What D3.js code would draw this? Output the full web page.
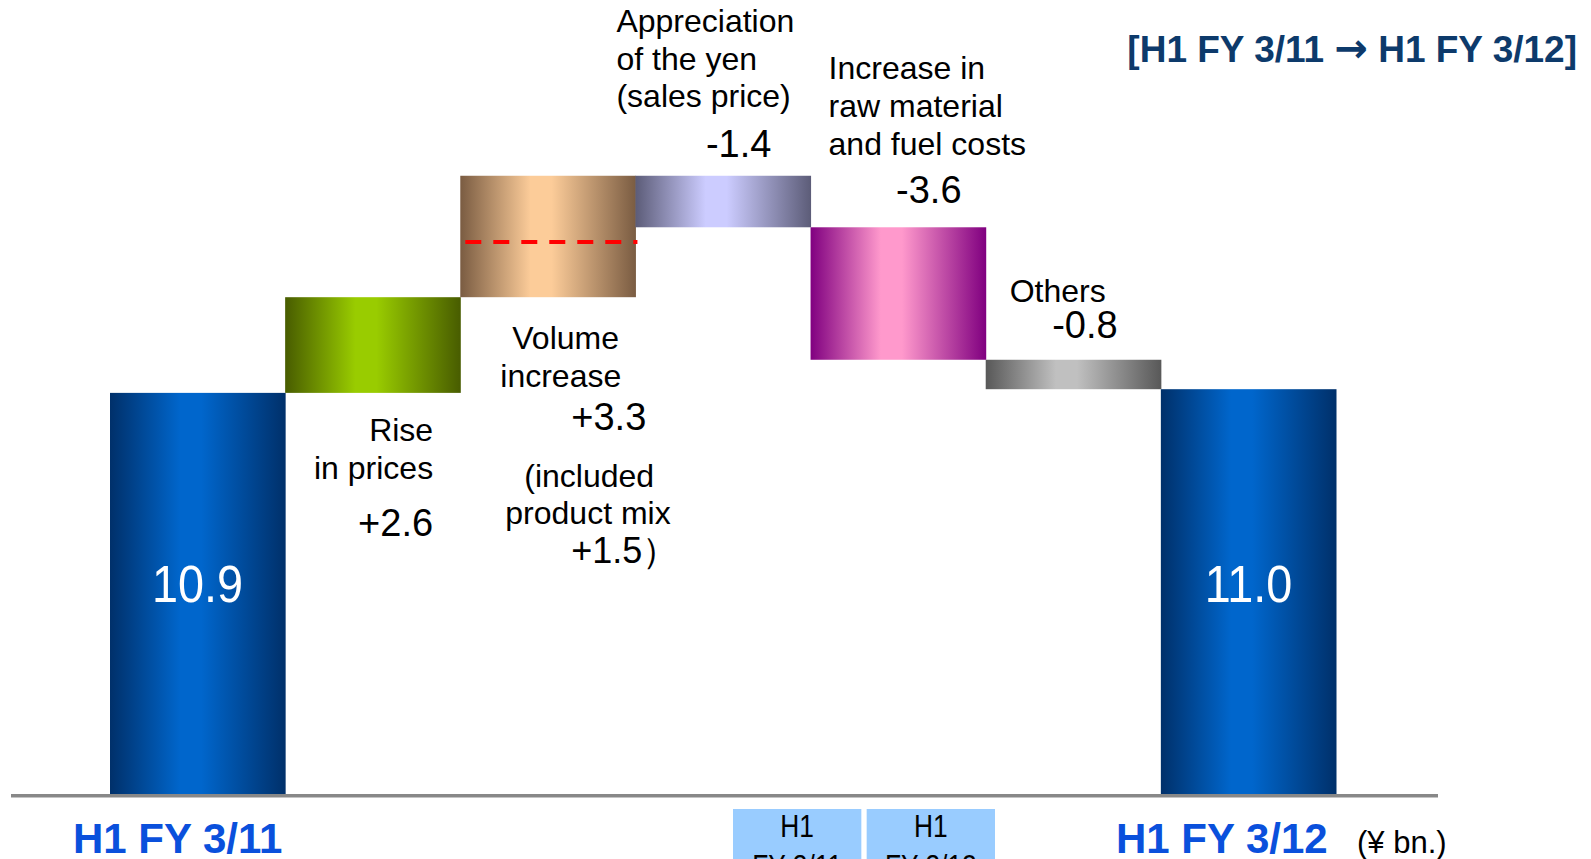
<!DOCTYPE html>
<html>
<head>
<meta charset="utf-8">
<script src="https://cdn.jsdelivr.net/npm/d3@7"></script>
<style>
  html, body { margin: 0; padding: 0; background: #fff; }
  svg { display: block; font-family: "Liberation Sans", Arial, sans-serif; }
</style>
</head>
<body>
<svg id="chart"></svg>
<script>
/* ---------- size ---------- */
var WIDTH = 1591,
    HEIGHT = 859;

/* ---------- data ---------- */
var categories = ["H1 FY 3/11", "Rise in prices", "Volume increase", "Appreciation of the yen",
                  "Increase in raw material and fuel costs", "Others", "H1 FY 3/12"];
var values = [10.9, 2.6, 3.3, -1.4, -3.6, -0.8, 11.0];
var isTotal = [true, false, false, false, false, false, true];
var valueLabels = ["10.9", "+2.6", "+3.3", "-1.4", "-3.6", "-0.8", "11.0"];
var productMix = 1.5;   // part of volume increase
var bottomBoxes = ["H1 FY 3/11", "H1 FY 3/12"];

/* ---------- colours: [edge, centre] ---------- */
var barColors = [
    ["#00306a", "#0066cc"],
    ["#485c00", "#99cc00"],
    ["#7a5c42", "#fccc99"],
    ["#5c5c78", "#ccccff"],
    ["#800080", "#ff99cc"],
    ["#585858", "#c0c0c0"],
    ["#00306a", "#0066cc"]
];
var titleColor = "#0d3a6b",
    axisLabelColor = "#0a50dc";

/* ---------- waterfall steps ---------- */
var steps = [], running = 0;
values.forEach(function(v, i) {
    var start, end;
    if (isTotal[i]) { start = 0; end = v; running = v; }
    else { start = running; end = running + v; running = end; }
    steps.push({name: categories[i], i: i, lo: Math.min(start, end), hi: Math.max(start, end)});
});

/* ---------- scales ---------- */
var x = d3.scaleBand().domain(categories).range([110, 1336]).padding(0);
var y = d3.scaleLinear().domain([0, 20]).range([794, 794 - 20 * 36.8]);

var svg = d3.select("#chart").attr("width", WIDTH).attr("height", HEIGHT);
var defs = svg.append("defs");

barColors.forEach(function(c, i) {
    var g = defs.append("linearGradient").attr("id", "grad" + i)
        .attr("x1", "0%").attr("x2", "100%").attr("y1", "0%").attr("y2", "0%");
    g.append("stop").attr("offset", "0%").attr("stop-color", c[0]);
    g.append("stop").attr("offset", "40%").attr("stop-color", c[1]);
    g.append("stop").attr("offset", "52%").attr("stop-color", c[1]);
    g.append("stop").attr("offset", "100%").attr("stop-color", c[0]);
});

/* ---------- bars ---------- */
svg.selectAll("rect.bar")
    .data(steps)
  .enter().append("rect")
    .attr("class", "bar")
    .attr("x", function(d) { return x(d.name); })
    .attr("width", x.bandwidth() + 0.5)
    .attr("y", function(d) { return y(d.hi); })
    .attr("height", function(d) { return y(d.lo) - y(d.hi); })
    .attr("fill", function(d) { return "url(#grad" + d.i + ")"; });

// product mix dashed line inside volume bar
var vol = steps[2];
svg.append("line")
    .attr("x1", x(vol.name) + 5)
    .attr("x2", x(vol.name) + x.bandwidth() + 2)
    .attr("y1", y(vol.lo + productMix))
    .attr("y2", y(vol.lo + productMix))
    .attr("stroke", "#ff0000")
    .attr("stroke-width", 4)
    .attr("stroke-dasharray", "16,12");

/* ---------- baseline ---------- */
svg.append("line")
    .attr("x1", 11).attr("x2", 1438)
    .attr("y1", y(0) + 1.5).attr("y2", y(0) + 1.5)
    .attr("stroke", "#888").attr("stroke-width", 3);
svg.append("line")
    .attr("x1", 11).attr("x2", 1438)
    .attr("y1", y(0) + 3.5).attr("y2", y(0) + 3.5)
    .attr("stroke", "#c4c4c4").attr("stroke-width", 1);

/* ---------- values inside totals ---------- */
steps.filter(function(d) { return isTotal[d.i]; }).forEach(function(d) {
    var cx = x(d.name) + x.bandwidth() / 2;
    svg.append("text")
        .attr("transform", "translate(" + cx + ",602) scale(0.9,1)")
        .attr("text-anchor", "middle")
        .attr("fill", "#fff")
        .attr("font-size", 52)
        .text(valueLabels[d.i]);
});

/* ---------- annotation text ---------- */
function addLines(lines) {
    lines.forEach(function(l) {
        svg.append("text")
            .attr("x", l[0]).attr("y", l[1])
            .attr("text-anchor", l[3] || "start")
            .attr("font-size", l[4] || 32)
            .attr("fill", "#000")
            .text(l[2]);
    });
}

var b1 = x(categories[1]), b2 = x(categories[2]), b3 = x(categories[3]),
    b4 = x(categories[4]), b5 = x(categories[5]);

addLines([
    // rise in prices
    [b1 + 148, 441, "Rise", "end"],
    [b1 + 148, 479, "in prices", "end"],
    [b1 + 148, 536, valueLabels[1], "end", 38],
    // volume increase
    [b2 + 52, 349, "Volume"],
    [b2 + 40, 387, "increase"],
    [b2 + 186, 430, valueLabels[2], "end", 38],
    [b2 + 64, 487, "(included"],
    [b2 + 45, 524, "product mix"],
    [b2 + 111, 563, "+" + productMix.toFixed(1) + "\uFF09", "start", 36],
    // appreciation of the yen
    [b3 - 19, 32, "Appreciation"],
    [b3 - 19, 70, "of the yen"],
    [b3 - 19, 107, "(sales price)"],
    [b3 + 136, 157, valueLabels[3], "end", 38],
    // raw material
    [b4 + 18, 79, "Increase in"],
    [b4 + 18, 117, "raw material"],
    [b4 + 18, 155, "and fuel costs"],
    [b4 + 151, 203, valueLabels[4], "end", 38],
    // others
    [b5 + 24, 302, "Others"],
    [b5 + 132, 338, valueLabels[5], "end", 38]
]);

/* ---------- title ---------- */
var title = svg.append("text")
    .attr("x", 1577).attr("y", 62)
    .attr("text-anchor", "end")
    .attr("font-size", 37)
    .attr("font-weight", "bold")
    .attr("fill", titleColor);
title.append("tspan").text("[H1 FY 3/11 ");
title.append("tspan").attr("font-family", "DejaVu Sans").attr("font-size", 40).text("\u2192");
title.append("tspan").text(" H1 FY 3/12]");

/* ---------- category labels ---------- */
svg.append("text")
    .attr("x", 73).attr("y", 853)
    .attr("font-size", 42).attr("font-weight", "bold")
    .attr("fill", axisLabelColor)
    .text(categories[0]);
svg.append("text")
    .attr("x", 1116).attr("y", 853)
    .attr("font-size", 42).attr("font-weight", "bold")
    .attr("fill", axisLabelColor)
    .text(categories[6]);
svg.append("text")
    .attr("x", 1357).attr("y", 853)
    .attr("font-size", 31)
    .attr("fill", "#000")
    .text("(\u00A5 bn.)");

/* ---------- small legend boxes at bottom ---------- */
var boxX = d3.scaleBand().domain(bottomBoxes).range([733, 995]).paddingInner(0.04);
var box = svg.selectAll("g.box")
    .data(bottomBoxes)
  .enter().append("g")
    .attr("class", "box")
    .attr("transform", function(d) { return "translate(" + boxX(d) + ",809)"; });
box.append("rect")
    .attr("width", boxX.bandwidth())
    .attr("height", 80)
    .attr("fill", "#99ccff");
box.append("text")
    .attr("transform", "translate(" + boxX.bandwidth() / 2 + ",28) scale(0.85,1)")
    .attr("text-anchor", "middle")
    .attr("font-size", 31)
    .text("H1");
box.append("text")
    .attr("transform", "translate(" + boxX.bandwidth() / 2 + ",68) scale(0.85,1)")
    .attr("text-anchor", "middle")
    .attr("font-size", 31)
    .text(function(d) { return d.replace("H1 ", ""); });
</script>
</body>
</html>
